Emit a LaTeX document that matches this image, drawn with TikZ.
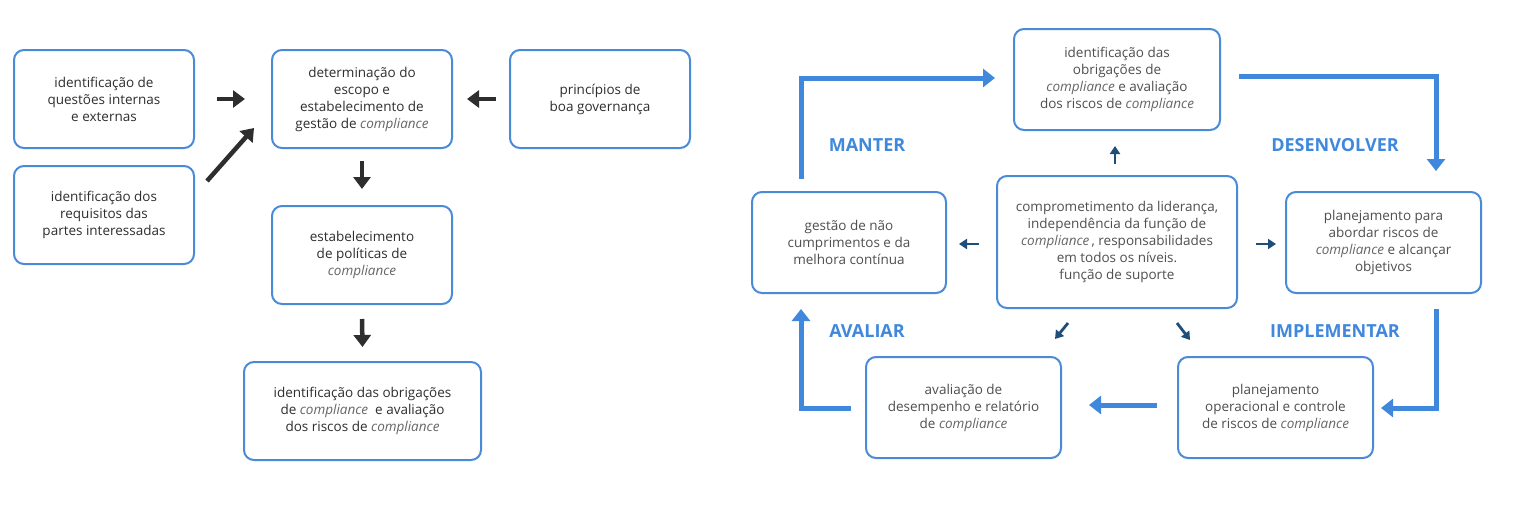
\documentclass[tikz,border=0pt]{standalone}
\usepackage{fontspec}
\setmainfont{Open Sans}
\usetikzlibrary{arrows.meta}
\definecolor{boxblue}{HTML}{4A8BD8}
\definecolor{arrblue}{HTML}{3F88DC}
\definecolor{dkblue}{HTML}{1F4E79}
\definecolor{txtdark}{HTML}{2E2E2E}
\definecolor{txtgray}{HTML}{4F4F4F}
\definecolor{complgray}{HTML}{666666}
\newcommand{\mycompl}{{\color{complgray}\itshape compliance}}
\begin{document}
\begin{tikzpicture}[x=1pt,y=-1pt,
  box/.style={draw=boxblue, line width=2pt, rounded corners=10pt, align=center,
    inner sep=0pt, font=\fontsize{13.5}{17}\selectfont},
  lbox/.style={box, text=txtdark},
  rbox/.style={box, text=txtgray},
  blk/.style={draw=txtdark, line width=4.5pt, -{Triangle[width=17pt,length=12pt]}},
  big/.style={draw=arrblue, line width=5pt, -{Triangle[width=18pt,length=12pt]}},
  sml/.style={draw=dkblue, line width=2.8pt, -{Triangle[width=10pt,length=8pt]}},
  lab/.style={text=arrblue, font=\fontsize{18}{21}\selectfont\bfseries}]
\useasboundingbox (0,0) rectangle (1514,506);
\fill[white] (0,0) rectangle (1514,506);
% left panel
\node[lbox, minimum width=180, minimum height=98] (A) at (104,99) {identificação de\\questões internas\\e externas};
\node[lbox, minimum width=180, minimum height=98] (B) at (104,215) {identificação dos\\requisitos das\\partes interessadas};
\node[lbox, minimum width=180, minimum height=98] (C) at (362,99) {determinação do\\escopo e\\estabelecimento de\\gestão de \mycompl};
\node[lbox, minimum width=180, minimum height=98] (D) at (600,99) {princípios de\\boa governança};
\node[lbox, minimum width=180, minimum height=98] (E) at (362,255) {estabelecimento\\de políticas de\\\mycompl};
\node[lbox, minimum width=237, minimum height=98] (F) at (362.5,411) {identificação das obrigações\\de \mycompl\ \ e avaliação\\dos riscos de \mycompl};
\draw[blk] ([xshift=22pt]A.east) -- ([xshift=-26pt]C.west);
\draw[blk] ([shift={(12pt,-16pt)}]B.north east) -- ([shift={(-17pt,21pt)}]C.south west);
\draw[blk] ([xshift=-13pt]D.west) -- ([xshift=14pt]C.east);
\draw[blk] ([yshift=-12pt]C.south) -- ([yshift=16pt]E.north);
\draw[blk] ([yshift=-14pt]E.south) -- ([yshift=14pt]F.north);
% right panel
\node[rbox, minimum width=206, minimum height=101] (G) at (1117,79.5) {identificação das\\obrigações de\\\mycompl\ e avaliação\\dos riscos de \mycompl};
\node[rbox, minimum width=194, minimum height=101] (H) at (849,242.5) {gestão de não\\cumprimentos e da\\melhora contínua};
\node[rbox, minimum width=240, minimum height=132] (I) at (1117,242) {comprometimento da liderança,\\independência da função de\\\mycompl\,, responsabilidades\\em todos os níveis.\\função de suporte};
\node[rbox, minimum width=195, minimum height=101] (J) at (1383.5,242.5) {planejamento para\\abordar riscos de\\\mycompl\ e alcançar\\objetivos};
\node[rbox, minimum width=195, minimum height=101] (K) at (963.5,407.5) {avaliação de\\desempenho e relatório\\de \mycompl};
\node[rbox, minimum width=195, minimum height=101] (L) at (1275.5,407.5) {planejamento\\operacional e controle\\de riscos de \mycompl};
% cycle arrows
\draw[big] ([shift={(-48pt,12pt)}]H.north) |- ([shift={(-18pt,1.5pt)}]G.west);
\draw[big] ([shift={(18pt,3.5pt)}]G.east) -| ([shift={(52.5pt,20pt)}]J.north);
\draw[big] ([shift={(52.5pt,-15pt)}]J.south) |- ([shift={(7pt,-0.5pt)}]L.east);
\draw[big] ([shift={(-20pt,2.5pt)}]L.west) -- ([shift={(27pt,2.5pt)}]K.east);
\draw[big] ([shift={(-14pt,-0.5pt)}]K.west) -| ([shift={(-48pt,-15pt)}]H.south);
% small arrows
\draw[sml] ([shift={(-2pt,11pt)}]I.north) -- ([shift={(-2pt,-15pt)}]G.south);
\draw[sml] ([shift={(-17pt,-2pt)}]I.west) -- ([shift={(12pt,-1.5pt)}]H.east);
\draw[sml] ([shift={(18pt,-2pt)}]I.east) -- ([shift={(-9pt,-1.5pt)}]J.west);
\draw[sml] ([shift={(-49pt,-14pt)}]I.south) -- ([shift={(91.5pt,17pt)}]K.north);
\draw[sml] ([shift={(60pt,-14pt)}]I.south) -- ([shift={(-85.5pt,16pt)}]L.north);
% labels
\node[lab] (m) at (867,145) {MANTER};
\node[lab] (d) at (1335,145) {DESENVOLVER};
\node[lab] (a) at (867,331) {AVALIAR};
\node[lab] (i) at (1335,331) {IMPLEMENTAR};
\end{tikzpicture}
\end{document}
